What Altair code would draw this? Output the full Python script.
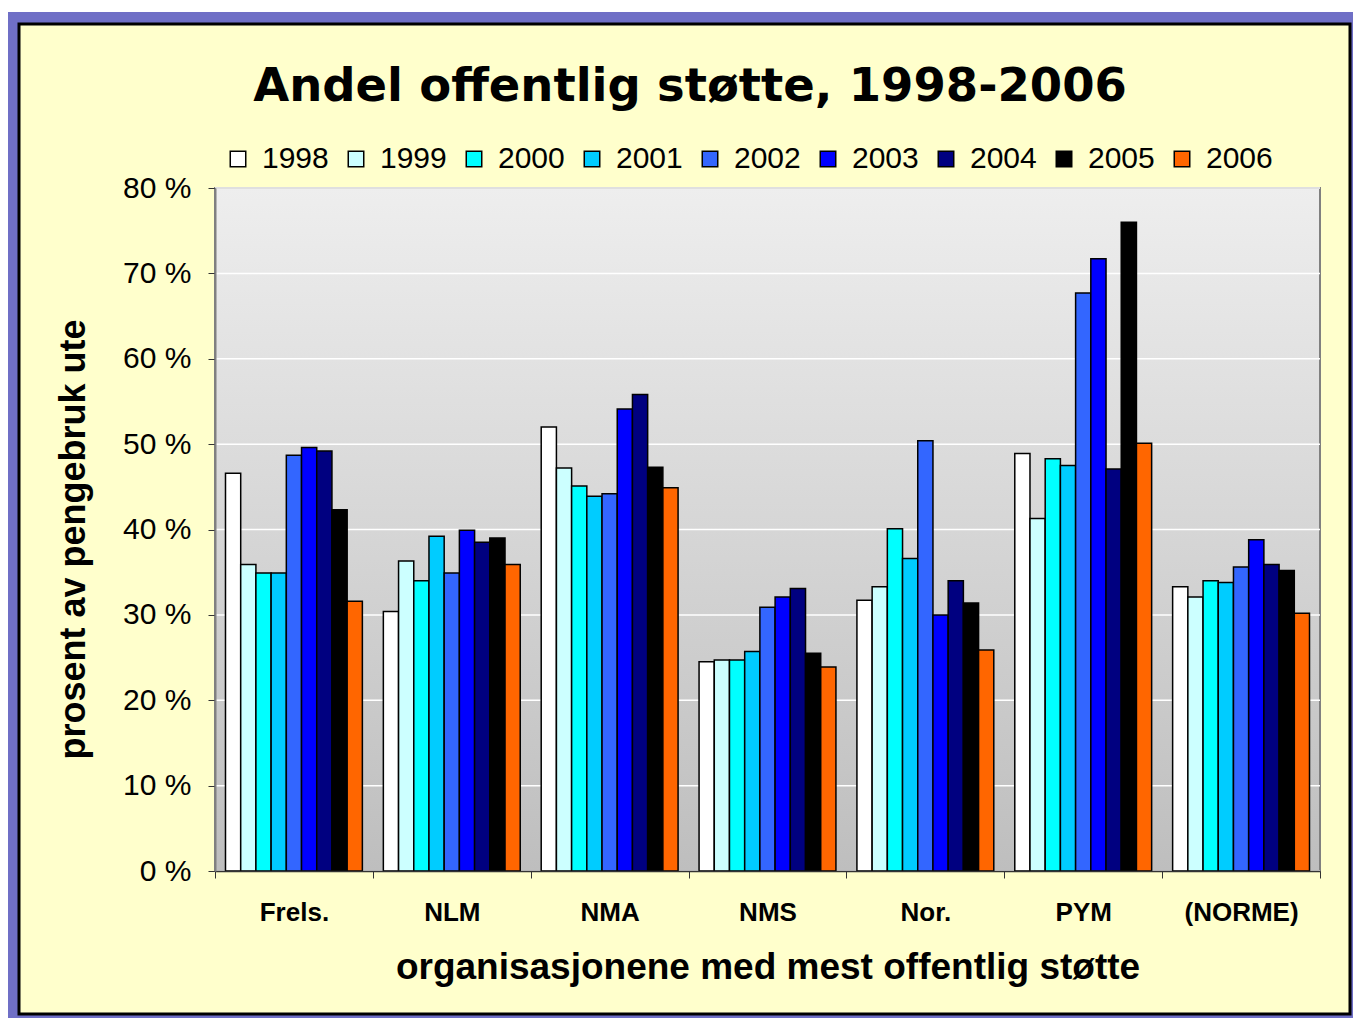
import altair as alt
import pandas as pd

categories = ["Frels.", "NLM", "NMA", "NMS", "Nor.", "PYM", "(NORME)"]
years = ["1998", "1999", "2000", "2001", "2002", "2003", "2004", "2005", "2006"]
colors = ["#FFFFFF", "#CCFFFF", "#00FFFF", "#00CCFF", "#3366FF",
          "#0000FF", "#000080", "#000000", "#FF6600"]

v1998 = [46.6, 30.4, 52.0, 24.5, 31.7, 48.9, 33.3]
v1999 = [35.9, 36.3, 47.2, 24.7, 33.3, 41.3, 32.1]
v2000 = [34.9, 34.0, 45.1, 24.7, 40.1, 48.3, 34.0]
v2001 = [34.9, 39.2, 43.9, 25.7, 36.6, 47.5, 33.8]
v2002 = [48.7, 34.9, 44.2, 30.9, 50.4, 67.7, 35.6]
v2003 = [49.6, 39.9, 54.1, 32.1, 30.0, 71.7, 38.8]
v2004 = [49.2, 38.5, 55.8, 33.1, 34.0, 47.1, 35.9]
v2005 = [42.3, 39.0, 47.3, 25.5, 31.4, 76.0, 35.2]
v2006 = [31.6, 35.9, 44.9, 23.9, 25.9, 50.1, 30.2]
series = [v1998, v1999, v2000, v2001, v2002, v2003, v2004, v2005, v2006]

yticks = [0, 10, 20, 30, 40, 50, 60, 70, 80]
title_text = "Andel offentlig støtte, 1998-2006"

rows = []
for yr, vals in zip(years, series):
    for cat, v in zip(categories, vals):
        rows.append({"org": cat, "year": yr, "value": v})
df = pd.DataFrame(rows)

W, H = 1105, 683
PAD = {"left": 207, "top": 180, "right": 33, "bottom": 147}

yscale = alt.Scale(domain=[0, 80], nice=False)
yaxis = alt.Axis(values=yticks, labelExpr="datum.value + ' %'", labelFontSize=30,
                 labelFont="Liberation Sans", labelColor="black", tickSize=7,
                 tickColor="#333333", domainColor="#808080", domainWidth=2,
                 labelPadding=17, title="prosent av pengebruk ute", titleFontSize=36,
                 titleFont="Liberation Sans", titleFontWeight="bold", titleColor="black",
                 titlePadding=30, titleY=351, grid=False, zindex=1)

one = alt.Data(values=[{}])

frame = alt.Chart(one).mark_rect(fill="#6F6FC6").encode(
    x=alt.value(-PAD["left"]), x2=alt.value(W + PAD["right"]),
    y=alt.value(-176), y2=alt.value(H + PAD["bottom"]))

panel = alt.Chart(one).mark_rect(fill="#FFFFCC", stroke="black", strokeWidth=3).encode(
    x=alt.value(-196), x2=alt.value(1135),
    y=alt.value(-164), y2=alt.value(H + PAD["bottom"] - 4))

title = alt.Chart(one).mark_text(font="DejaVu Sans", fontSize=46.5, fontWeight="bold",
                                 color="black", align="center",
                                 baseline="alphabetic").encode(
    x=alt.value(475), y=alt.value(-87), text=alt.value(title_text))

plotbg = alt.Chart(one).mark_rect(
    fill=alt.LinearGradient(gradient="linear",
                            stops=[alt.GradientStop(color="#EEEEEE", offset=0),
                                   alt.GradientStop(color="#BEBEBE", offset=1)],
                            x1=0, x2=0, y1=0, y2=1),
    stroke="#808080", strokeWidth=2).encode(
    x=alt.value(0), x2=alt.value("width"), y=alt.value(0), y2=alt.value("height"))

grid = alt.Chart(pd.DataFrame({"v": yticks})).mark_rule(
    color="white", strokeWidth=1.5).encode(
    y=alt.Y("v:Q", scale=yscale, axis=yaxis))

bars = alt.Chart(df).mark_bar(stroke="black", strokeWidth=1.5, opacity=1).encode(
    x=alt.X("org:N", sort=categories,
            scale=alt.Scale(paddingInner=0, paddingOuter=0),
            axis=alt.Axis(title="organisasjonene med mest offentlig støtte",
                          labelAngle=0, labelFontSize=26, labelFontWeight="bold",
                          labelFont="Liberation Sans", labelColor="black",
                          tickBand="extent", tickSize=7, tickColor="#333333",
                          domainColor="#333333", domainWidth=1.5, labelPadding=21,
                          titleFontSize=37, titleFontWeight="bold",
                          titleFont="Liberation Sans", titleColor="black",
                          titlePadding=24, zindex=1)),
    xOffset=alt.XOffset("year:N", sort=years,
                        scale=alt.Scale(paddingOuter=0.69, paddingInner=0)),
    y=alt.Y("value:Q", scale=yscale, axis=yaxis),
    color=alt.Color("year:N", sort=years,
                    scale=alt.Scale(domain=years, range=colors),
                    legend=alt.Legend(title=None, orient="none", legendX=8, legendY=-44,
                                      direction="horizontal", columns=9,
                                      symbolType="square", symbolSize=240,
                                      symbolStrokeColor="black", symbolStrokeWidth=1.5,
                                      symbolOpacity=1, labelFontSize=30,
                                      labelFont="Liberation Sans", labelColor="black",
                                      labelOffset=9, columnPadding=12, padding=0)),
)

chart = alt.layer(frame, panel, title, plotbg, grid, bars).properties(
    width=W, height=H,
    padding=PAD,
    autosize=alt.AutoSizeParams(type="none"),
    background="white",
).configure_view(stroke=None).configure(font="Liberation Sans")

chart.save("out.html", embed_options={"renderer": "svg", "actions": False})
